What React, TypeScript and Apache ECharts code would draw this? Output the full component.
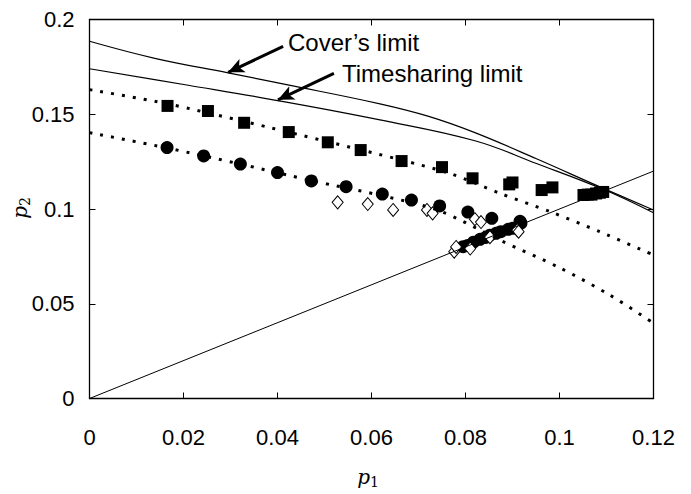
import React, { useEffect, useRef } from "react";
import * as echarts from "echarts";

// Axis ranges / ticks
const xMin = 0, xMax = 0.12, xStep = 0.02;
const yMin = 0, yMax = 0.2, yStep = 0.05;

// Cover's limit curve
const coverP1 = [0, 0.0139, 0.0295, 0.0422, 0.0618, 0.072, 0.082, 0.0951, 0.1093, 0.12];
const coverP2 = [0.1885, 0.1795, 0.1718, 0.1655, 0.1555, 0.149, 0.1403, 0.1265, 0.1109, 0.0995];

// Timesharing limit curve
const timeP1 = [0, 0.021, 0.0394, 0.0618, 0.082, 0.0951, 0.1093, 0.12];
const timeP2 = [0.174, 0.1653, 0.1575, 0.147, 0.136, 0.124, 0.1104, 0.098];

// Diagonal p2 = p1
const diagP1 = [0, 0.12];
const diagP2 = [0, 0.12];

// Upper dotted curve
const upperP1 = [0, 0.0166, 0.0329, 0.0507, 0.0664, 0.077, 0.0873, 0.098, 0.1086, 0.12];
const upperP2 = [0.163, 0.1555, 0.1462, 0.1355, 0.1258, 0.1185, 0.1083, 0.0986, 0.088, 0.0757];

// Lower dotted curve
const lowerP1 = [0, 0.0165, 0.0321, 0.0472, 0.0623, 0.0745, 0.0873, 0.1001, 0.1107, 0.12];
const lowerP2 = [0.1403, 0.1322, 0.1237, 0.115, 0.107, 0.099, 0.0836, 0.0689, 0.0546, 0.0398];

// Filled squares
const squareP1 = [0.0166, 0.0252, 0.0329, 0.0424, 0.0507, 0.0577, 0.0664, 0.075, 0.0815, 0.0893, 0.09, 0.0962, 0.0985, 0.1051, 0.106, 0.1068, 0.1078, 0.1086, 0.1093];
const squareP2 = [0.1544, 0.1517, 0.1455, 0.1406, 0.1352, 0.1311, 0.1253, 0.1221, 0.1162, 0.113, 0.114, 0.11, 0.1114, 0.1074, 0.1076, 0.1076, 0.1082, 0.1086, 0.109];

// Filled circles
const circleP1 = [0.0165, 0.0243, 0.0321, 0.04, 0.0472, 0.0546, 0.0623, 0.0685, 0.0745, 0.0805, 0.0856, 0.0916, 0.0918, 0.0795, 0.0805, 0.0817, 0.0831, 0.0843, 0.0852, 0.0865, 0.0875, 0.0891, 0.09];
const circleP2 = [0.1324, 0.128, 0.1237, 0.1192, 0.1148, 0.1118, 0.1079, 0.1047, 0.1016, 0.0984, 0.0951, 0.0935, 0.0925, 0.0801, 0.0808, 0.0825, 0.084, 0.085, 0.0862, 0.0872, 0.088, 0.0893, 0.0898];

// Open diamonds
const diamondP1 = [0.0528, 0.0592, 0.0646, 0.0718, 0.073, 0.082, 0.0833, 0.0776, 0.078, 0.081, 0.0852, 0.091, 0.0913];
const diamondP2 = [0.1035, 0.1026, 0.0995, 0.0995, 0.0977, 0.0946, 0.0931, 0.0775, 0.08, 0.0791, 0.0851, 0.0889, 0.088];

// Annotation arrows: [startP1, startP2, tipP1, tipP2]
const coverArrow = [0.0412, 0.1858, 0.0295, 0.1721];
const timeArrow = [0.052, 0.1716, 0.0401, 0.1576];
const coverText = "Cover’s limit";
const timeText = "Timesharing limit";
const xName = "{i|p}{s|1}";
const yName = "{i|p}{s|2}";

const zip = (a: number[], b: number[]) => a.map((v, i) => [v, b[i]]);
const fmt = (v: number) => String(parseFloat(v.toFixed(3)));

const SANS = "Liberation Sans, Arial, Helvetica, sans-serif";
const SERIF = "DejaVu Serif, Liberation Serif, serif";

export default function App() {
  const ref = useRef<HTMLDivElement>(null);
  useEffect(() => {
    if (!ref.current) return;
    const chart = echarts.init(ref.current, undefined, { renderer: "svg" });
    const axisCommon = {
      type: "value" as const,
      splitLine: { show: false },
      axisLine: { show: true, onZero: false, lineStyle: { color: "#000", width: 1.3 } },
      axisTick: { show: true, inside: true, length: 6, lineStyle: { color: "#000", width: 1 } },
    };
    const nameRich = {
      i: { fontFamily: SERIF, fontStyle: "italic" as const, fontSize: 20, fill: "#000", color: "#000" },
      s: { fontFamily: SERIF, fontSize: 14, fill: "#000", color: "#000", padding: [9, 0, 0, 0] },
    };
    const arrowLine = (a: number[]) => [
      { coord: [a[0], a[1]], symbol: "none" },
      { coord: [a[2], a[3]], symbol: "arrow" },
    ];
    chart.setOption({
      animation: false,
      backgroundColor: "#fff",
      grid: {
        left: 89.5,
        right: 37.5,
        top: 19.5,
        bottom: 95.5,
        containLabel: false,
        outerBoundsMode: "none",
      },
      xAxis: [
        {
          ...axisCommon,
          position: "bottom",
          min: xMin,
          max: xMax,
          interval: xStep,
          axisLabel: { color: "#000", fontFamily: SANS, fontSize: 22, margin: 28, formatter: fmt },
        },
        {
          ...axisCommon,
          position: "top",
          min: xMin,
          max: xMax,
          interval: xStep,
          axisLabel: { show: false },
        },
      ],
      yAxis: [
        {
          ...axisCommon,
          position: "left",
          min: yMin,
          max: yMax,
          interval: yStep,
          axisLabel: { color: "#000", fontFamily: SANS, fontSize: 22, margin: 15, formatter: fmt },
        },
        {
          ...axisCommon,
          position: "right",
          min: yMin,
          max: yMax,
          interval: yStep,
          axisLabel: { show: false },
        },
      ],
      series: [
        {
          name: "Cover",
          type: "line",
          data: zip(coverP1, coverP2),
          symbol: "none",
          smooth: 0.4,
          lineStyle: { color: "#000", width: 1.2 },
          markLine: {
            silent: true,
            symbolSize: [11, 16],
            label: { show: false },
            lineStyle: { color: "#000", width: 3, type: "solid" },
            data: [arrowLine(coverArrow), arrowLine(timeArrow)],
          },
        },
        {
          name: "Timesharing",
          type: "line",
          data: zip(timeP1, timeP2),
          symbol: "none",
          smooth: 0.4,
          lineStyle: { color: "#000", width: 1.2 },
        },
        {
          name: "Diagonal",
          type: "line",
          data: zip(diagP1, diagP2),
          symbol: "none",
          lineStyle: { color: "#000", width: 1 },
        },
        {
          name: "Upper",
          type: "line",
          data: zip(upperP1, upperP2),
          symbol: "none",
          smooth: 0.3,
          lineStyle: { color: "#000", width: 3, type: [3, 8], cap: "butt" },
        },
        {
          name: "Lower",
          type: "line",
          data: zip(lowerP1, lowerP2),
          symbol: "none",
          smooth: 0.3,
          lineStyle: { color: "#000", width: 3, type: [3, 8], cap: "butt" },
        },
        {
          name: "Squares",
          type: "scatter",
          data: zip(squareP1, squareP2),
          symbol: "rect",
          symbolSize: 12,
          itemStyle: { color: "#000", opacity: 1 },
        },
        {
          name: "Circles",
          type: "scatter",
          data: zip(circleP1, circleP2),
          symbol: "circle",
          symbolSize: 13,
          itemStyle: { color: "#000", opacity: 1 },
        },
        {
          name: "Diamonds",
          type: "scatter",
          data: zip(diamondP1, diamondP2),
          symbol: "diamond",
          symbolSize: [11, 13],
          itemStyle: { color: "#fff", borderColor: "#000", borderWidth: 1, opacity: 1 },
        },
      ],
      graphic: [
        {
          type: "text",
          left: 288,
          top: 30,
          style: { text: coverText, fontFamily: SANS, fontSize: 24, fill: "#000" },
        },
        {
          type: "text",
          left: 342,
          top: 61,
          style: { text: timeText, fontFamily: SANS, fontSize: 24, fill: "#000" },
        },
        {
          type: "text",
          x: 368,
          y: 477,
          style: { text: xName, rich: nameRich, align: "center", verticalAlign: "middle" },
        },
        {
          type: "text",
          x: 20,
          y: 208,
          rotation: Math.PI / 2,
          style: { text: yName, rich: nameRich, align: "center", verticalAlign: "middle" },
        },
      ],
    });
    return () => chart.dispose();
  }, []);
  return (
    <div
      ref={ref}
      style={{ position: "fixed", left: 0, top: 0, width: 691, height: 494, background: "#fff" }}
    />
  );
}
